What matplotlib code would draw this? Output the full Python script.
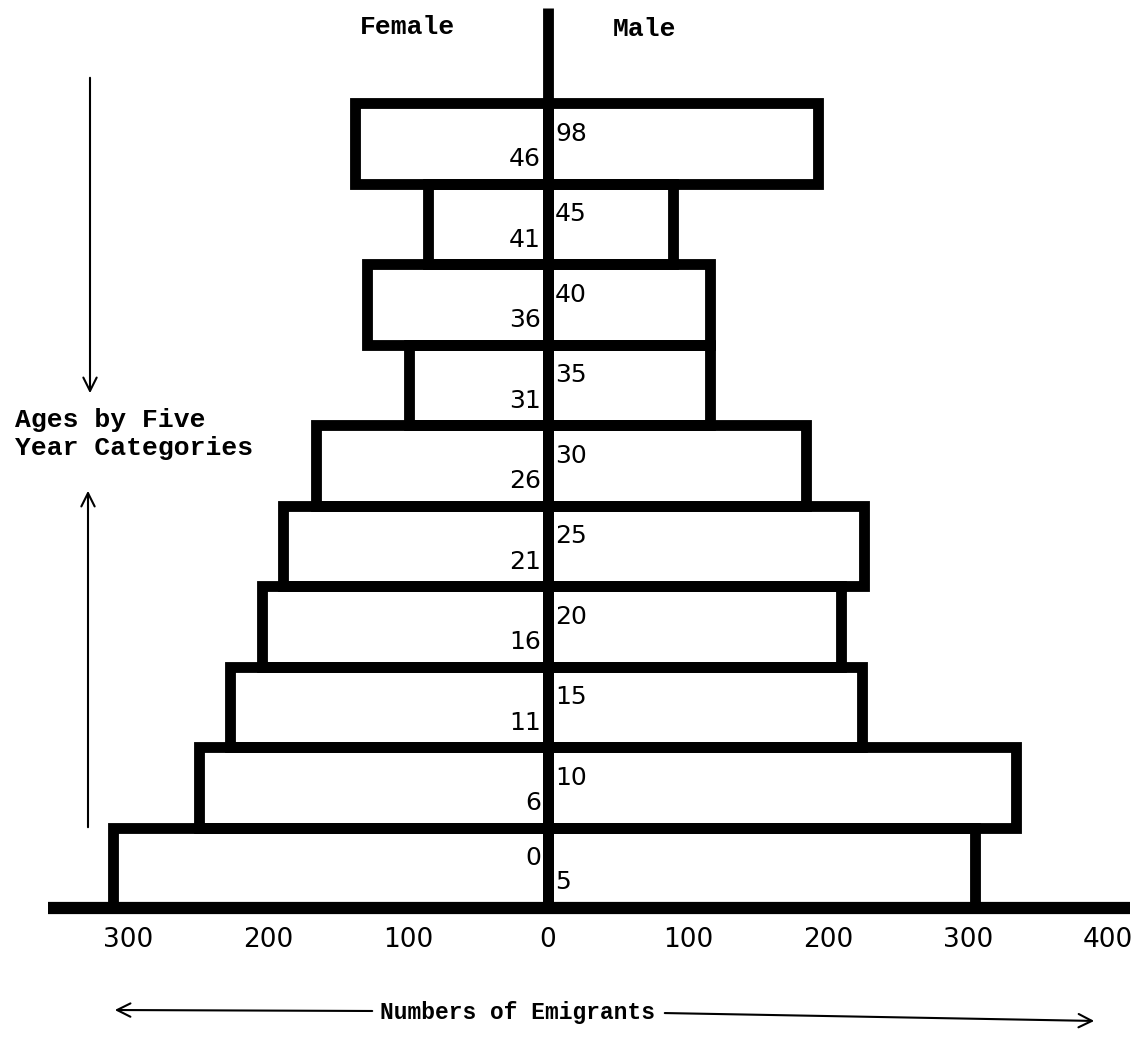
import matplotlib
matplotlib.use("Agg")
import matplotlib.pyplot as plt

# ---- data ----
age_low = ["0", "6", "11", "16", "21", "26", "31", "36", "41", "46"]
age_high = ["5", "10", "15", "20", "25", "30", "35", "40", "45", "98"]
female = [311, 249, 227, 204, 189, 166, 99, 129, 86, 138]
male = [305, 334, 224, 209, 226, 184, 116, 116, 89, 193]
tick_values = [-300, -200, -100, 0, 100, 200, 300, 400]
tick_labels = ["300", "200", "100", "0", "100", "200", "300", "400"]

W, H = 1145, 1037
fig = plt.figure(figsize=(W / 100, H / 100), dpi=100)
ax = fig.add_axes([0, 0, 1, 1])
px_per_unit = 1.4
x0_px = 548
base_px = 908
bar_px = 80.5
ax.set_xlim(-x0_px / px_per_unit, (W - x0_px) / px_per_unit)
ax.set_ylim(-(H - base_px) / bar_px, base_px / bar_px)
ax.axis("off")

LW = 7.8
typew = dict(family=["Liberation Mono", "DejaVu Sans Mono"], fontweight="bold")
num = dict(family=["DejaVu Sans"])

ys = list(range(len(female)))
ax.barh(ys, [-f for f in female], height=1, align="edge", left=0,
        fill=False, edgecolor="black", linewidth=LW, zorder=2)
ax.barh(ys, male, height=1, align="edge", left=0,
        fill=False, edgecolor="black", linewidth=LW, zorder=2)

# central axis and baseline
top_units = (base_px - 8) / bar_px
ax.plot([0, 0], [0, top_units], color="black", lw=LW, solid_capstyle="butt", zorder=3)
ax.plot([-(x0_px - 48) / px_per_unit, (1130 - x0_px) / px_per_unit], [0, 0],
        color="black", lw=LW + 1, solid_capstyle="butt", zorder=3)

# age labels
for i, (lo, hi) in enumerate(zip(age_low, age_high)):
    if i == 0:
        ylo, yhi = i + 0.62, i + 0.32
    else:
        ylo, yhi = i + 0.3, i + 1 - 0.38
    ax.text(-5, ylo, lo, ha="right", va="center", fontsize=18, **num, zorder=4)
    ax.text(5, yhi, hi, ha="left", va="center", fontsize=18, **num, zorder=4)

# x tick labels
for v, lab in zip(tick_values, tick_labels):
    ax.text(v, -(940 - base_px) / bar_px, lab, ha="center", va="center",
            fontsize=19, **num)

def fx(px):
    return px / W

def fy(py):
    return 1 - py / H

fig.text(fx(408), fy(27), "Female", ha="center", va="center", fontsize=19, **typew)
fig.text(fx(645), fy(29), "Male", ha="center", va="center", fontsize=19, **typew)
fig.text(fx(15), fy(434), "Ages by Five\nYear Categories", ha="left", va="center",
         fontsize=19, linespacing=1.2, **typew)
fig.text(fx(518), fy(1013), "Numbers of Emigrants", ha="center", va="center",
         fontsize=16.5, **typew)

arrow = dict(arrowstyle="->", color="black", lw=1.5, mutation_scale=24)
fig.add_artist(matplotlib.patches.FancyArrowPatch((fx(90), fy(75)), (fx(90), fy(396)),
               transform=fig.transFigure, **arrow))
fig.add_artist(matplotlib.patches.FancyArrowPatch((fx(88), fy(830)), (fx(88), fy(488)),
               transform=fig.transFigure, **arrow))
fig.add_artist(matplotlib.patches.FancyArrowPatch((fx(375), fy(1011)), (fx(112), fy(1010)),
               transform=fig.transFigure, **arrow))
fig.add_artist(matplotlib.patches.FancyArrowPatch((fx(662), fy(1013)), (fx(1097), fy(1021)),
               transform=fig.transFigure, **arrow))

fig.savefig("out.png", dpi=100, facecolor="white")
